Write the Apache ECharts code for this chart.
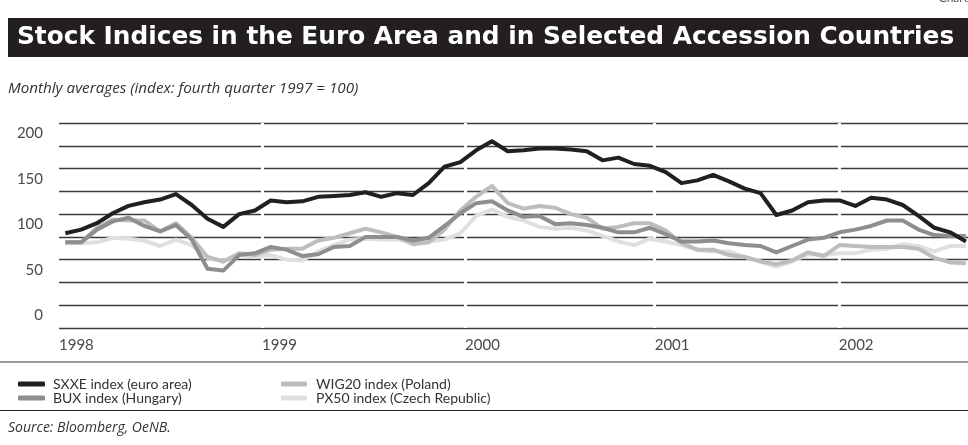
<!DOCTYPE html>
<html>
<head>
<meta charset="utf-8">
<script src="https://cdn.jsdelivr.net/npm/echarts@6/dist/echarts.min.js"></script>
<style>
  html, body { margin: 0; padding: 0; background: #fff; }
  #chart { width: 968px; height: 445px; }
</style>
</head>
<body>
<div id="chart"></div>
<script>
// Months from Dec 1997 to Sep 2002 (monthly averages)
const months = [
  '1997-12',
  '1998-01','1998-02','1998-03','1998-04','1998-05','1998-06','1998-07','1998-08','1998-09','1998-10','1998-11','1998-12',
  '1999-01','1999-02','1999-03','1999-04','1999-05','1999-06','1999-07','1999-08','1999-09','1999-10','1999-11','1999-12',
  '2000-01','2000-02','2000-03','2000-04','2000-05','2000-06','2000-07','2000-08','2000-09','2000-10','2000-11','2000-12',
  '2001-01','2001-02','2001-03','2001-04','2001-05','2001-06','2001-07','2001-08','2001-09','2001-10','2001-11','2001-12',
  '2002-01','2002-02','2002-03','2002-04','2002-05','2002-06','2002-07','2002-08','2002-09'
]

// Series values (index: fourth quarter 1997 = 100)
const sxxe = [
  104, 108, 115, 126, 134, 138, 141, 147, 135, 120, 111, 125, 129,
  140, 138, 139, 144, 145, 146, 149, 144, 148, 146, 159, 177,
  182, 195, 205, 194, 195, 197, 197, 196, 194, 184, 187, 180,
  178, 171, 159, 162, 168, 161, 153, 148, 124, 129, 138, 140,
  140, 134, 143, 141, 135, 123, 110, 105, 95
]
const bux = [
  94, 94, 108, 117, 121, 112, 106, 113, 97, 65, 63, 80, 82,
  89, 86, 79, 81, 89, 90, 100, 100, 100, 96, 99, 112,
  126, 137, 139, 129, 122, 123, 114, 115, 113, 110, 105, 105,
  110, 103, 95, 95, 96, 93, 91, 90, 83, 90, 97, 99,
  105, 108, 112, 118, 118, 108, 102, 101, 101
]
const wig20 = [
  94, 94, 110, 119, 118, 118, 106, 115, 99, 78, 73, 82, 80,
  86, 87, 87, 96, 99, 104, 109, 105, 100, 92, 94, 108,
  129, 144, 156, 137, 131, 134, 132, 125, 121, 109, 111, 115,
  115, 107, 93, 86, 86, 80, 78, 73, 70, 74, 83, 79,
  91, 90, 89, 89, 89, 87, 77, 72, 71
]
const px50 = [
  93, 93, 94, 99, 98, 96, 90, 97, 91, 77, 73, 81, 78,
  80, 75, 74, 84, 91, 97, 98, 97, 97, 95, 95, 97,
  104, 123, 130, 122, 118, 111, 109, 110, 107, 101, 95, 91,
  98, 95, 91, 86, 84, 84, 78, 73, 67, 73, 81, 80,
  82, 82, 86, 87, 92, 90, 84, 90, 90
]

// Year labels and where the grid breaks for each year (in month steps)
const yearLabels = ['1998', '1999', '2000', '2001', '2002']
const yearTicks = [-0.4, 12.45, 25.3, 37.3, 48.95]

const seriesNames = [
  'SXXE index (euro area)',
  'BUX index (Hungary)',
  'WIG20 index (Poland)',
  'PX50 index (Czech Republic)'
]
const colors = ['#231f20', '#8e8e8e', '#bdbdbd', '#dfdfdf']

const FONT = 'Lato, "Open Sans", sans-serif'
const NOTE_FONT = '"Open Sans", Lato, sans-serif'

const toPairs = (values) => values.map((v, i) => [i, v])

const makeLine = (name, values, color, z) => ({
  name,
  type: 'line',
  data: toPairs(values),
  symbol: 'none',
  z,
  lineStyle: { width: 4, color, cap: 'butt', join: 'round' },
  itemStyle: { color }
})

const chart = echarts.init(document.getElementById('chart'), null, { renderer: 'canvas' })

const px = makeLine(seriesNames[3], px50, colors[3], 2)
// white breaks in the horizontal rules at the turn of each year
px.markLine = {
  silent: true,
  z: 1,
  symbol: ['none', 'none'],
  label: { show: false },
  lineStyle: { color: '#ffffff', width: 3, type: 'solid' },
  emphasis: { disabled: true },
  data: yearTicks.slice(1).map(x => ({ xAxis: x }))
}

chart.setOption({
  animation: false,
  textStyle: { fontFamily: FONT },
  grid: { left: 59, right: 0, top: 123, bottom: 117, containLabel: false },
  xAxis: {
    type: 'value',
    min: -0.4,
    max: 57.13,
    axisLine: { show: false },
    axisTick: { show: false },
    splitLine: { show: false },
    axisLabel: {
      customValues: yearTicks,
      formatter: (v) => yearLabels[yearTicks.indexOf(v)] ?? '',
      align: 'left',
      margin: 10,
      fontSize: 15,
      color: '#4a4a4a',
      fontFamily: FONT
    }
  },
  yAxis: {
    type: 'value',
    min: 0,
    max: 225,
    interval: 25,
    axisLine: { show: false },
    axisTick: { show: false },
    splitLine: { show: true, lineStyle: { color: '#3c3c3c', width: 1.3 } },
    axisLabel: {
      formatter: (v) => (v % 50 === 0 && v <= 200 ? String(v) : ''),
      verticalAlign: 'bottom',
      lineHeight: 15,
      padding: [0, 0, 5, 0],
      margin: 16,
      fontSize: 15,
      color: '#4a4a4a',
      fontFamily: FONT
    }
  },
  legend: [
    {
      data: [seriesNames[0], seriesNames[1]],
      orient: 'vertical',
      left: 13,
      top: 372,
      icon: 'roundRect',
      itemWidth: 27,
      itemHeight: 5,
      itemGap: 0,
      selectedMode: false,
      textStyle: { fontSize: 14, lineHeight: 14, color: '#333', padding: [0, 0, 0, 3], fontFamily: FONT }
    },
    {
      data: [seriesNames[2], seriesNames[3]],
      orient: 'vertical',
      left: 276,
      top: 372,
      icon: 'roundRect',
      itemWidth: 26,
      itemHeight: 5,
      itemGap: 0,
      selectedMode: false,
      textStyle: { fontSize: 14, lineHeight: 14, color: '#333', padding: [0, 0, 0, 4], fontFamily: FONT }
    }
  ],
  graphic: [
    { type: 'text', x: 968, y: 4, style: { text: 'Chart', font: '12px ' + FONT, fill: '#555', align: 'right', verticalAlign: 'bottom' } },
    { type: 'rect', shape: { x: 8, y: 18, width: 960, height: 39 }, style: { fill: '#231f20' } },
    { type: 'text', x: 17, y: 38, style: { text: 'Stock Indices in the Euro Area and in Selected Accession Countries', font: 'bold 24.8px "DejaVu Sans"', fill: '#ffffff', verticalAlign: 'middle' } },
    { type: 'text', x: 8, y: 89, style: { text: 'Monthly averages (index: fourth quarter 1997 = 100)', font: 'italic 15.2px ' + NOTE_FONT, fill: '#333', verticalAlign: 'middle' } },
    { type: 'line', shape: { x1: 0, y1: 362, x2: 968, y2: 362 }, style: { stroke: '#7a7a7a', lineWidth: 1.5 } },
    { type: 'line', shape: { x1: 0, y1: 410.5, x2: 968, y2: 410.5 }, style: { stroke: '#222', lineWidth: 1 } },
    { type: 'text', x: 8, y: 428, style: { text: 'Source: Bloomberg, OeNB.', font: 'italic 14px ' + NOTE_FONT, fill: '#333', verticalAlign: 'middle' } }
  ],
  series: [
    px,
    makeLine(seriesNames[2], wig20, colors[2], 3),
    makeLine(seriesNames[1], bux, colors[1], 4),
    makeLine(seriesNames[0], sxxe, colors[0], 5)
  ]
})
</script>
</body>
</html>
